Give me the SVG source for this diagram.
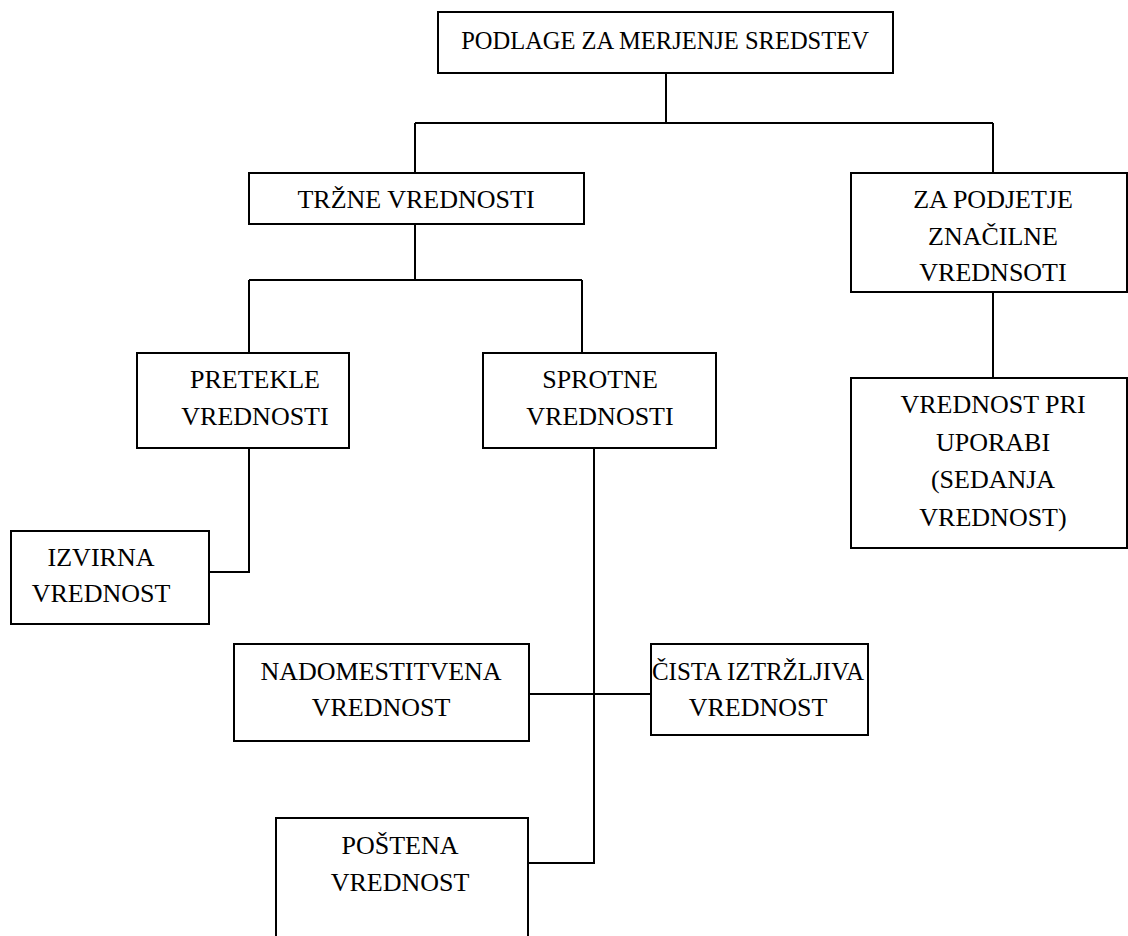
<svg xmlns="http://www.w3.org/2000/svg" width="1128" height="936" viewBox="0 0 1128 936">
<style>
.box{fill:#fff;stroke:#000;stroke-width:2}
.ln{fill:none;stroke:#000;stroke-width:2}
.t{font-family:'Liberation Serif','DejaVu Serif',serif;font-size:26px;fill:#000;text-anchor:middle}
</style>
<rect x="0" y="0" width="1128" height="936" fill="#fff"/>
<g id="connectors" class="ln">
<path d="M666,73 V123"/>
<path d="M415,123 H993"/>
<path d="M415,123 V173"/>
<path d="M993,123 V173"/>
<path d="M415,224 V280"/>
<path d="M249,280 H582"/>
<path d="M249,280 V353"/>
<path d="M582,280 V353"/>
<path d="M249,448 V572 H209"/>
<path d="M594,448 V863 H528"/>
<path d="M529,694 H651"/>
<path d="M993,292 V378"/>
</g>
<g class="t">
<g id="n-podlage"><rect class="box" x="438" y="12" width="455" height="61"/><text x="665" y="49" style="font-size:24.5px">PODLAGE ZA MERJENJE SREDSTEV</text></g>
<g id="n-trzne"><rect class="box" x="249" y="173" width="335" height="51"/><text x="416" y="208">TRŽNE VREDNOSTI</text></g>
<g id="n-zapodjetje"><rect class="box" x="851" y="173" width="276" height="119"/><text x="993" y="208">ZA PODJETJE</text><text x="993" y="245">ZNAČILNE</text><text x="993" y="281">VREDNSOTI</text></g>
<g id="n-uporaba"><rect class="box" x="851" y="378" width="276" height="170"/><text x="993" y="413">VREDNOST PRI</text><text x="993" y="451">UPORABI</text><text x="993" y="488">(SEDANJA</text><text x="993" y="526">VREDNOST)</text></g>
<g id="n-pretekle"><rect class="box" x="137" y="353" width="212" height="95"/><text x="255" y="388">PRETEKLE</text><text x="255" y="425">VREDNOSTI</text></g>
<g id="n-sprotne"><rect class="box" x="483" y="353" width="233" height="95"/><text x="600" y="388">SPROTNE</text><text x="600" y="425">VREDNOSTI</text></g>
<g id="n-izvirna"><rect class="box" x="11" y="531" width="198" height="93"/><text x="101" y="566">IZVIRNA</text><text x="101" y="602">VREDNOST</text></g>
<g id="n-nadomestitvena"><rect class="box" x="234" y="644" width="295" height="97"/><text x="381" y="680">NADOMESTITVENA</text><text x="381" y="716">VREDNOST</text></g>
<g id="n-cista"><rect class="box" x="651" y="644" width="217" height="91"/><text x="758" y="680" style="font-size:25px">ČISTA IZTRŽLJIVA</text><text x="758" y="716">VREDNOST</text></g>
<g id="n-postena"><rect class="box" x="276" y="818" width="252" height="124"/><text x="400" y="854">POŠTENA</text><text x="400" y="891">VREDNOST</text></g>
</g>
</svg>
